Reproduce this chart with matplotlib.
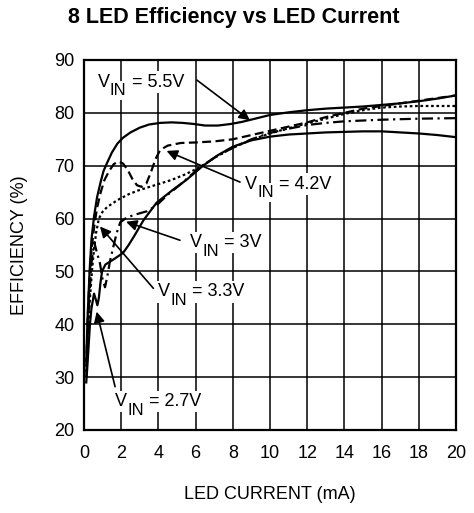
import numpy as np
import matplotlib
matplotlib.use("Agg")
import matplotlib.pyplot as plt
import matplotlib.transforms as mtransforms

plt.rcParams['font.family'] = ['Liberation Sans', 'DejaVu Sans']

# curves: LED current (mA), efficiency (%)
x_55 = [0.12, 0.2, 0.3, 0.4, 0.54, 0.7, 0.9, 1.05, 1.25, 1.5, 1.8, 2.1, 2.5, 3.0, 3.5, 4.1, 4.7,
        5.3, 5.9, 6.5, 7.2, 7.9, 8.5, 9.2, 10, 11, 12, 13, 14, 15, 16, 17, 18, 19, 20]
y_55 = [33, 42, 50, 56, 60.4, 64, 67, 69, 70.6, 72.5, 74.2, 75.3, 76.3, 77.2, 77.8, 78.1, 78.2,
        78.1, 77.9, 77.6, 77.6, 77.9, 78.3, 78.9, 79.6, 80.1, 80.5, 80.8, 81.0, 81.2, 81.5, 81.8, 82.2, 82.7, 83.3]

x_42 = [0.12, 0.2, 0.3, 0.4, 0.55, 0.7, 0.9, 1.1, 1.35, 1.6, 1.85, 2.1, 2.35, 2.6, 2.85, 3.1, 3.35,
        3.6, 3.85, 4.1, 4.5, 5.2, 6, 7, 8, 9, 10, 11, 12, 13, 14, 15, 16, 17, 18, 19, 20]
y_42 = [32, 41, 49, 54, 58.5, 62, 65, 67.3, 69, 70.3, 70.8, 70.4, 69.2, 67.5, 66.3, 66, 66.6,
        68.8, 71.3, 73, 73.8, 74.3, 74.4, 74.6, 75, 75.8, 76.6, 77.4, 78.2, 79.2, 80.0, 80.8, 81.3, 81.8, 82.3, 82.8, 83.3]

x_33 = [0.12, 0.2, 0.3, 0.45, 0.55, 0.65, 0.8, 1.0, 1.25, 1.8, 2.4, 2.9, 3.8, 4.7, 5.4, 6.0, 6.5,
        7, 8, 9, 10, 11, 12, 13, 14, 15, 16, 17, 18, 19, 20]
y_33 = [31, 37, 44, 51, 54.5, 57.3, 60, 61.3, 62.2, 63.5, 64.6, 65.3, 66.3, 67.3, 68.3, 69.3, 70.3,
        71.5, 73.4, 74.9, 76.1, 77.1, 78.0, 78.9, 79.8, 80.5, 81.0, 81.2, 81.3, 81.3, 81.3]

x_30 = [0.12, 0.2, 0.3, 0.4, 0.55, 0.7, 0.86, 1.0, 1.13, 1.25, 1.4, 1.6, 1.76, 1.95, 2.3, 2.8, 3.4,
        3.9, 4.5, 5.2, 6.2, 7, 8, 9, 10, 11, 12, 13, 14, 16, 18, 20]
y_30 = [30, 38, 46, 51.5, 55.5, 53.5, 51.5, 48.5, 47, 49, 52, 55, 57.3, 59.3, 60.2, 60.8, 61.4,
        62.5, 64.5, 66.5, 69.6, 71.5, 73.4, 75, 76.2, 77, 77.7, 78.1, 78.4, 78.7, 78.9, 79]

x_27 = [0.12, 0.18, 0.25, 0.32, 0.4, 0.54, 0.65, 0.72, 0.8, 0.88, 0.97, 1.15, 1.6, 2.1, 2.4, 2.7,
        3.2, 3.9, 4.8, 5.5, 6.4, 7.2, 8, 9, 10, 11, 12, 13, 14, 15, 16, 17, 18, 19, 20]
y_27 = [29, 32, 36, 40, 43, 45.8, 44.5, 43.6, 45, 47.7, 50, 51.3, 52.3, 53.5, 55, 56.7,
        59.7, 63, 65.5, 67.3, 70, 72, 73.6, 74.8, 75.5, 75.9, 76.1, 76.3, 76.4, 76.5, 76.5, 76.3, 76.1, 75.8, 75.4]

# label text, text position (centre of the "V"), arrow tail, arrow tip
labels = ['5.5V', '4.2V', '3V', '3.3V', '2.7V']
text_xy = [(0.75, 86.2), (8.66, 66.9), (5.7, 55.8), (3.98, 46.5), (1.67, 25.7)]
tail_xy = [(6.07, 86.2), (8.39, 66.9), (5.16, 55.9), (3.73, 46.8), (1.67, 28.2)]
tip_xy = [(8.92, 78.6), (4.44, 72.8), (2.26, 59.4), (0.86, 58.5), (0.68, 42.4)]

fig = plt.figure(figsize=(4.74, 5.13), dpi=100)
ax = fig.add_axes([84/474, 83/513, 372/474, 370/513])

lw = 1.6
ax.plot(x_55, y_55, color='black', lw=lw, solid_joinstyle='round')
ax.plot(x_42, y_42, color='black', lw=lw, linestyle=(0, (4, 2)))
ax.plot(x_33, y_33, color='black', lw=lw, linestyle=(0, (1.2, 1.2)))
ax.plot(x_30, y_30, color='black', lw=lw, linestyle=(0, (5, 2, 1, 2)))
ax.plot(x_27, y_27, color='black', lw=lw, solid_joinstyle='round')

ax.set_xlim(0, 20)
ax.set_ylim(20, 90)
ax.set_xticks(np.arange(0, 21, 2))
ax.set_yticks(np.arange(20, 91, 10))
ax.grid(True, color='black', lw=1.1)
ax.tick_params(length=0, labelsize=13)
ax.tick_params(axis='x', pad=11)
ax.tick_params(axis='y', pad=7)
for s in ax.spines.values():
    s.set_linewidth(1.6)

ax.set_xlabel('LED CURRENT (mA)', fontsize=13, labelpad=17)
ax.set_ylabel('EFFICIENCY (%)', fontsize=13, labelpad=19)
fig.text(234/474, 1 - 18/513, '8 LED Efficiency vs LED Current', fontsize=15.5,
         fontweight='bold', ha='center', va='center')

# V_IN labels: big subscript, built from three pieces
r = fig.canvas.get_renderer()
box = dict(facecolor='white', edgecolor='none', pad=1.5)
for lab, t, a, p in zip(labels, text_xy, tail_xy, tip_xy):
    ax.annotate('', xy=p, xytext=a,
                arrowprops=dict(arrowstyle='-|>', color='black', lw=1.2,
                                mutation_scale=16, shrinkA=0, shrinkB=0))
    yb = t[1] - 1.22
    t1 = ax.text(t[0], yb, 'V', fontsize=13, va='baseline', bbox=box, zorder=5)
    w1 = t1.get_window_extent(r).width * 72 / fig.dpi
    tr2 = mtransforms.offset_copy(ax.transData, fig=fig, x=w1, y=-6, units='points')
    t2 = ax.text(t[0], yb, 'IN', fontsize=12, va='baseline', transform=tr2, bbox=box, zorder=7)
    w2 = t2.get_window_extent(r).width * 72 / fig.dpi
    tr3 = mtransforms.offset_copy(ax.transData, fig=fig, x=w1 + w2, y=0, units='points')
    ax.text(t[0], yb, ' = ' + lab, fontsize=13, va='baseline', transform=tr3, bbox=box, zorder=6)

fig.savefig('out.png', dpi=100)
